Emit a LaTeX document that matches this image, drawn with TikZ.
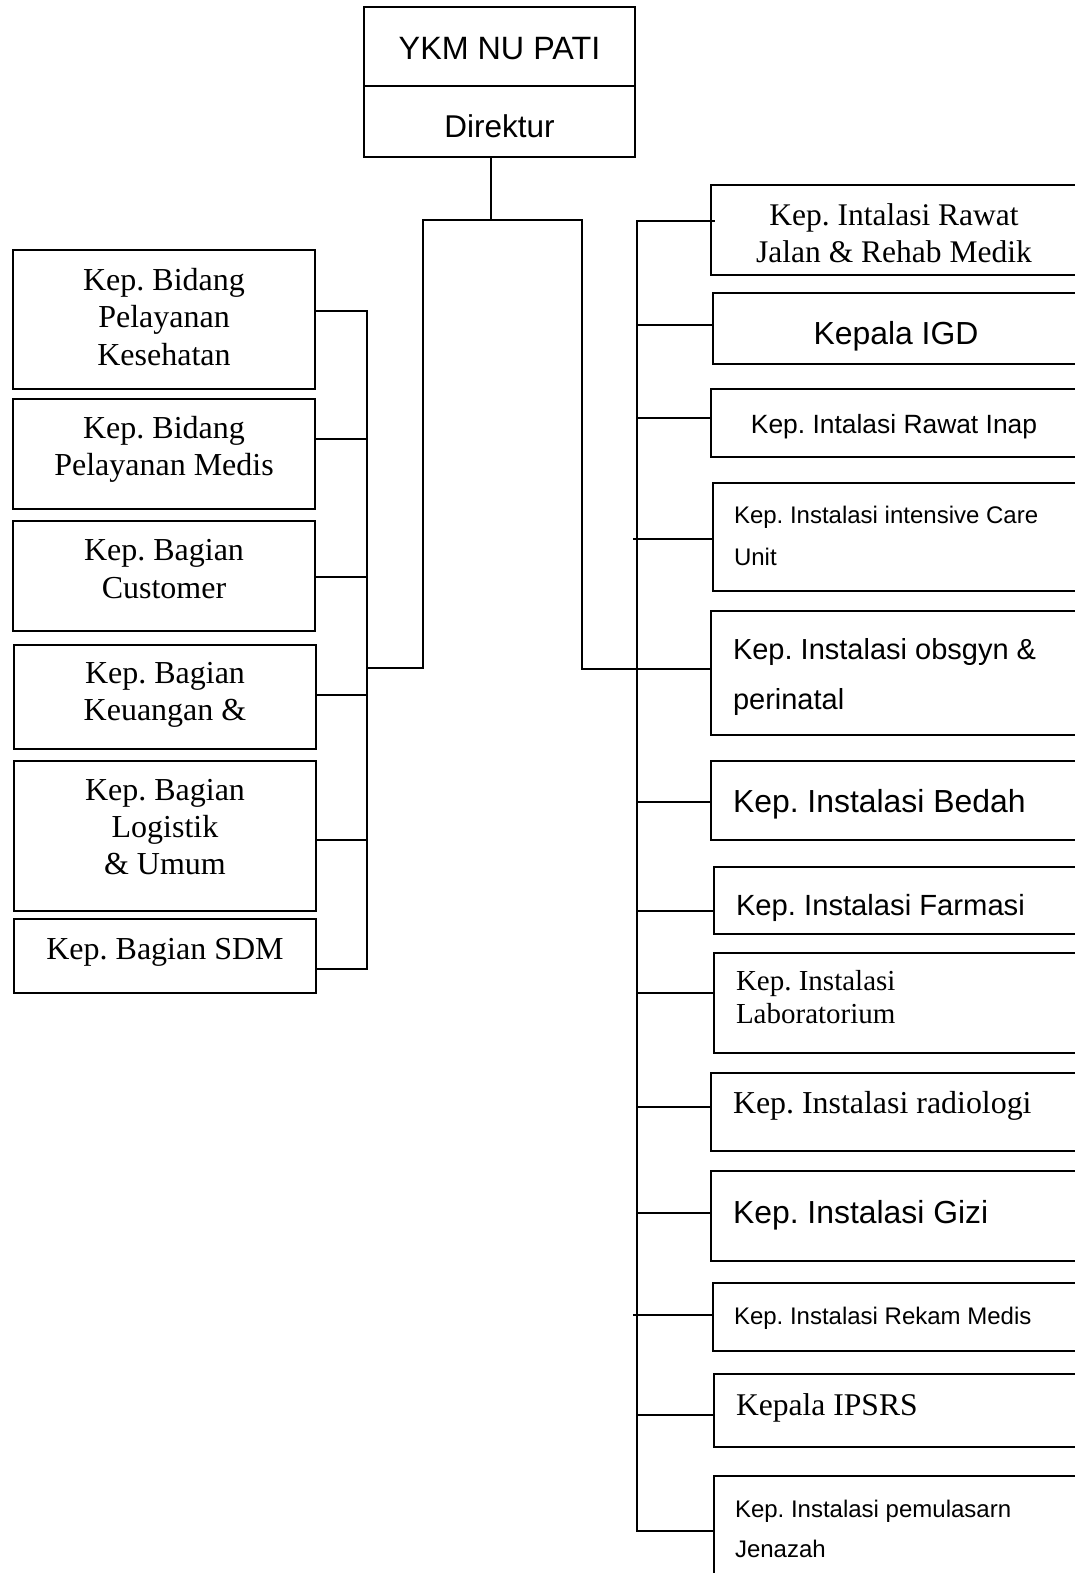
\documentclass[tikz,border=0pt]{standalone}
\usepackage{fontspec}
\setmainfont{Liberation Serif}
\newfontfamily\arialf{Liberation Sans}
\newcommand{\mlc}[1]{\begin{tabular}[t]{@{}c@{}}#1\end{tabular}}
\newcommand{\mll}[1]{\begin{tabular}[t]{@{}l@{}}#1\end{tabular}}
\tikzset{
  box/.style 2 args={draw=black, line width=1.8pt, inner sep=0pt, anchor=north west,
    minimum width=#1pt, minimum height=#2pt, outer sep=0pt},
  txt/.style={inner sep=0pt, outer sep=0pt, anchor=base},
  txtl/.style={inner sep=0pt, outer sep=0pt, anchor=base west},
  conn/.style={line width=1.8pt, line cap=rect},
}
\begin{document}
\frenchspacing
\begin{tikzpicture}[x=1pt,y=-1pt]
\path[use as bounding box] (0,0) rectangle (1075,1573);
\clip (0,0) rectangle (1075,1573);

% top boxes
\node[box={271}{79}] (topA) at (364,7) {};
\node[box={271}{71}] (topB) at (364,86) {};
\node[txt] (tYKM) at (499.5,60) {\arialf\fontsize{32.3}{36}\selectfont YKM NU PATI};
\node[txt] (tDir) at (499.5,138) {\arialf\fontsize{31.5}{35}\selectfont Direktur};

% left boxes
\node[box={302}{139}] (L1) at (13,250) {};
\node[box={302}{110}] (L2) at (13,399) {};
\node[box={302}{110}] (L3) at (13,521) {};
\node[box={302}{104}] (L4) at (14,645) {};
\node[box={302}{150}] (L5) at (14,761) {};
\node[box={302}{74}]  (L6) at (14,919) {};

\node[txt] (tL1) at (164,290) {\fontsize{32}{37.5}\selectfont\mlc{Kep. Bidang\\Pelayanan\\Kesehatan}};
\node[txt] (tL2) at (164,438) {\fontsize{32}{37}\selectfont\mlc{Kep. Bidang\\Pelayanan Medis}};
\node[txt] (tL3) at (164,560) {\fontsize{32}{38}\selectfont\mlc{Kep. Bagian\\Customer}};
\node[txt] (tL4) at (165,683) {\fontsize{32}{37}\selectfont\mlc{Kep. Bagian\\Keuangan \&}};
\node[txt] (tL5) at (165,800) {\fontsize{32}{37}\selectfont\mlc{Kep. Bagian\\Logistik\\\& Umum}};
\node[txt] (tL6) at (165,959) {\fontsize{32}{37}\selectfont Kep. Bagian SDM};

% right boxes
\node[box={368}{90}]  (R1)  at (711,185) {};
\node[box={366}{71}]  (R2)  at (713,293) {};
\node[box={368}{68}]  (R3)  at (711,389) {};
\node[box={366}{108}] (R4)  at (713,483) {};
\node[box={368}{124}] (R5)  at (711,611) {};
\node[box={368}{79}]  (R6)  at (711,761) {};
\node[box={365}{67}]  (R7)  at (714,867) {};
\node[box={365}{100}] (R8)  at (714,953) {};
\node[box={368}{78}]  (R9)  at (711,1073) {};
\node[box={368}{90}]  (R10) at (711,1171) {};
\node[box={366}{68}]  (R11) at (713,1283) {};
\node[box={365}{73}]  (R12) at (714,1374) {};
\node[box={365}{114}] (R13) at (714,1476) {};

\node[txt]  (tR1)  at (894,225)  {\fontsize{31.5}{37}\selectfont\mlc{Kep. Intalasi Rawat\\Jalan \& Rehab Medik}};
\node[txt]  (tR2)  at (896,344)  {\arialf\fontsize{31.9}{36}\selectfont Kepala IGD};
\node[txt]  (tR3)  at (894,433)  {\arialf\fontsize{26.4}{30}\selectfont Kep. Intalasi Rawat Inap};
\node[txtl] (tR4)  at (734,523)  {\arialf\fontsize{24}{42}\selectfont\mll{Kep. Instalasi intensive Care\\Unit}};
\node[txtl] (tR5)  at (733,659)  {\arialf\fontsize{29}{50}\selectfont\mll{Kep. Instalasi obsgyn \&\\perinatal}};
\node[txtl] (tR6)  at (733,812)  {\arialf\fontsize{31.9}{36}\selectfont Kep. Instalasi Bedah};
\node[txtl] (tR7)  at (736,915)  {\arialf\fontsize{29.2}{34}\selectfont Kep. Instalasi Farmasi};
\node[txtl] (tR8)  at (736,990)  {\fontsize{29}{33}\selectfont\mll{Kep. Instalasi\\Laboratorium}};
\node[txtl] (tR9)  at (733,1113) {\fontsize{31.9}{36}\selectfont Kep. Instalasi radiologi};
\node[txtl] (tR10) at (733,1223) {\arialf\fontsize{31.9}{36}\selectfont Kep. Instalasi Gizi};
\node[txtl] (tR11) at (734,1324) {\arialf\fontsize{24}{28}\selectfont Kep. Instalasi Rekam Medis};
\node[txtl] (tR12) at (736,1415) {\fontsize{31.6}{36}\selectfont Kepala IPSRS};
\node[txtl] (tR13) at (735,1517) {\arialf\fontsize{24}{40.5}\selectfont\mll{Kep. Instalasi pemulasarn\\Jenazah}};

% coordinates
\coordinate (d1) at (491,220);
\coordinate (hl) at (423,220);
\coordinate (hr) at (582,220);
\coordinate (hl2) at (423,668);
\coordinate (hr2) at (582,669);

\coordinate (lb1) at (367,311);
\coordinate (lb2) at (367,439);
\coordinate (lb3) at (367,577);
\coordinate (lbm) at (367,668);
\coordinate (lb4) at (367,695);
\coordinate (lb5) at (367,840);
\coordinate (lb6) at (367,969);

\coordinate (rb1) at (637,221);
\coordinate (rb2) at (637,325);
\coordinate (rb3) at (637,418);
\coordinate (rb4) at (637,539);
\coordinate (rb5) at (637,669);
\coordinate (rb6) at (637,802);
\coordinate (rb7) at (637,911);
\coordinate (rb8) at (637,993);
\coordinate (rb9) at (637,1107);
\coordinate (rb10) at (637,1213);
\coordinate (rb11) at (637,1315);
\coordinate (rb12) at (637,1415);
\coordinate (rb13) at (637,1531);

% top connectors
\draw[conn] (topB.south -| d1) -- (d1);
\draw[conn] (hl) -- (hr);
\draw[conn] (hl) -- (hl2) -- (lbm);
\draw[conn] (hr) -- (hr2) -- (rb5);

% left bus
\draw[conn] (lb1) -- (lb6);
\draw[conn] (L1.east |- lb1) -- (lb1);
\draw[conn] (L2.east |- lb2) -- (lb2);
\draw[conn] (L3.east |- lb3) -- (lb3);
\draw[conn] (L4.east |- lb4) -- (lb4);
\draw[conn] (L5.east |- lb5) -- (lb5);
\draw[conn] (L6.east |- lb6) -- (lb6);

% right bus
\draw[conn] (rb1) -- (rb13);
\draw[conn] (rb1) -- ([xshift=3pt]R1.west |- rb1);
\draw[conn] (rb2) -- (R2.west |- rb2);
\draw[conn] (rb3) -- (R3.west |- rb3);
\draw[conn] ([xshift=-3pt]rb4) -- (R4.west |- rb4);
\draw[conn] (rb5) -- (R5.west |- rb5);
\draw[conn] (rb6) -- (R6.west |- rb6);
\draw[conn] (rb7) -- (R7.west |- rb7);
\draw[conn] (rb8) -- (R8.west |- rb8);
\draw[conn] (rb9) -- (R9.west |- rb9);
\draw[conn] (rb10) -- (R10.west |- rb10);
\draw[conn] ([xshift=-3pt]rb11) -- (R11.west |- rb11);
\draw[conn] (rb12) -- (R12.west |- rb12);
\draw[conn] (rb13) -- (R13.west |- rb13);
\end{tikzpicture}
\end{document}
